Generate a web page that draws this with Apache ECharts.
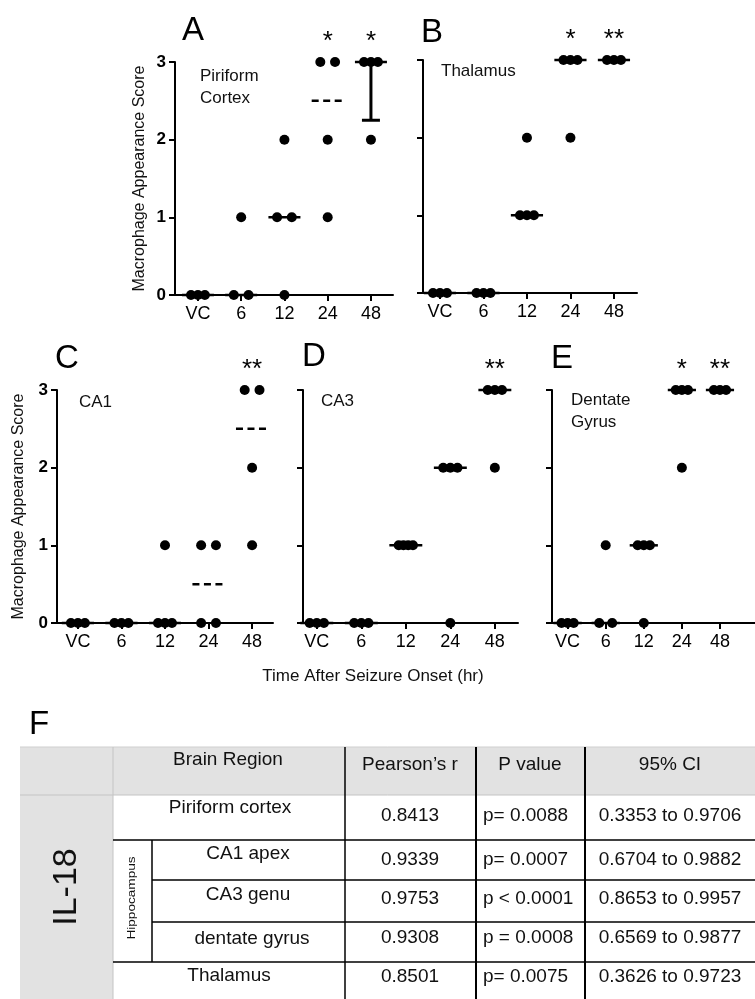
<!DOCTYPE html>
<html>
<head>
<meta charset="utf-8">
<script src="https://cdn.jsdelivr.net/npm/echarts@6/dist/echarts.min.js"></script>
<style>
  html, body { margin: 0; padding: 0; background: #fff; }
  #main { width: 755px; height: 999px; }
</style>
</head>
<body>
<div id="main"></div>
<script>
  const timeLabels = ['VC', '6', '12', '24', '48'];

  // one list of animal scores per time point
  const piriformScores = [[0, 0, 0], [0, 1, 0], [0, 1, 1, 2], [1, 2, 3, 3], [2, 3, 3, 3]];
  const thalamusScores = [[0, 0, 0], [0, 0, 0], [1, 1, 1, 2], [2, 3, 3, 3], [3, 3, 3]];
  const ca1Scores = [[0, 0, 0], [0, 0, 0], [0, 0, 0, 1], [0, 0, 1, 1], [1, 2, 3, 3]];
  const ca3Scores = [[0, 0, 0], [0, 0, 0], [1, 1, 1, 1], [0, 2, 2, 2], [2, 3, 3, 3]];
  const dentateScores = [[0, 0, 0], [0, 0, 1], [0, 1, 1, 1], [2, 3, 3, 3], [3, 3, 3]];

  const piriformStars = ['', '', '', '*', '*'];
  const thalamusStars = ['', '', '', '*', '**'];
  const ca1Stars = ['', '', '', '', '**'];
  const ca3Stars = ['', '', '', '', '**'];
  const dentateStars = ['', '', '', '*', '**'];

  // lower quartile bar, only drawn for piriform 48 hr
  const piriformLowBar = [null, null, null, null, 2.25];

  const tableHeader = ['Brain Region', 'Pearson\u2019s r', 'P value', '95% CI'];
  const tableRegions = ['Piriform cortex', 'CA1 apex', 'CA3 genu', 'dentate gyrus', 'Thalamus'];
  const pearsonR = ['0.8413', '0.9339', '0.9753', '0.9308', '0.8501'];
  const pValues = ['p= 0.0088', 'p= 0.0007', 'p < 0.0001', 'p = 0.0008', 'p= 0.0075'];
  const ci95 = ['0.3353 to 0.9706', '0.6704 to 0.9882', '0.8653 to 0.9957', '0.6569 to 0.9877', '0.3626 to 0.9723'];

  const FONT = 'Liberation Sans, Arial, sans-serif';

  const panels = [
    { letter: 'A', lx: 182, ly: 31, region: 'Piriform\nCortex', rx: 200, ry: 87, scores: piriformScores, stars: piriformStars, lowBar: piriformLowBar,
      left: 175, top: 62, width: 218, height: 233, min: -0.53, max: 4.51, yName: true, nameGap: 27 },
    { letter: 'B', lx: 421, ly: 33, region: 'Thalamus', rx: 441, ry: 71, scores: thalamusScores, stars: thalamusStars, lowBar: [],
      left: 423, top: 60, width: 214, height: 233, min: -0.39, max: 4.53 },
    { letter: 'C', lx: 55, ly: 359, region: 'CA1', rx: 79, ry: 402, scores: ca1Scores, stars: ca1Stars, lowBar: [],
      left: 57, top: 390, width: 216, height: 233, min: -0.48, max: 4.48, yName: true, nameGap: 30 },
    { letter: 'D', lx: 302, ly: 357, region: 'CA3', rx: 321, ry: 401, scores: ca3Scores, stars: ca3Stars, lowBar: [],
      left: 303, top: 390, width: 215, height: 233, min: -0.31, max: 4.52 },
    { letter: 'E', lx: 551, ly: 359, region: 'Dentate\nGyrus', rx: 571, ry: 411, scores: dentateScores, stars: dentateStars, lowBar: [],
      left: 552, top: 390, width: 232, height: 233, min: -0.41, max: 4.92 }
  ];

  function median(arr) {
    const s = arr.slice().sort((a, b) => a - b);
    const m = s.length >> 1;
    return s.length % 2 ? s[m] : (s[m - 1] + s[m]) / 2;
  }

  // horizontal spread of dots that share a score
  function spread(n) {
    if (n === 1) return [0];
    if (n === 2) return [-0.17, 0.17];
    const out = [];
    for (let k = 0; k < n; k++) out.push(-0.16 + 0.32 * k / (n - 1));
    return out;
  }

  function dotPoints(scores) {
    const pts = [];
    scores.forEach((group, i) => {
      const counts = {};
      group.forEach(v => { counts[v] = (counts[v] || 0) + 1; });
      Object.keys(counts).forEach(v => {
        spread(counts[v]).forEach(dx => pts.push([i + dx, Number(v)]));
      });
    });
    return pts;
  }

  const chartDom = document.getElementById('main');
  const myChart = echarts.init(chartDom, null, { renderer: 'canvas' });

  const grid = [], xAxis = [], yAxis = [], series = [];

  panels.forEach((p, k) => {
    grid.push({ left: p.left, top: p.top, width: p.width, height: p.height });

    xAxis.push({
      type: 'value', gridIndex: k, min: p.min, max: p.max,
      splitLine: { show: false },
      axisLine: { lineStyle: { color: '#000', width: 2 } },
      axisTick: { customValues: [0, 1, 2, 3, 4], length: 6, lineStyle: { color: '#000', width: 2 } },
      axisLabel: {
        customValues: [0, 1, 2, 3, 4],
        formatter: v => timeLabels[v],
        color: '#000', fontSize: 18, fontFamily: FONT, margin: 10
      }
    });

    yAxis.push({
      type: 'value', gridIndex: k, min: 0, max: 3, interval: 1,
      name: p.yName ? 'Macrophage Appearance Score' : '',
      nameLocation: 'middle',
      nameGap: p.nameGap || 0,
      nameTextStyle: { color: '#111', fontSize: 16, fontFamily: FONT },
      splitLine: { show: false },
      axisLine: { onZero: false, lineStyle: { color: '#000', width: 2 } },
      axisTick: { length: 6, lineStyle: { color: '#000', width: 2 } },
      axisLabel: {
        show: !!p.yName, color: '#000', fontSize: 17, fontWeight: 'bold', fontFamily: FONT, margin: 9
      }
    });

    series.push({
      type: 'scatter', xAxisIndex: k, yAxisIndex: k,
      symbolSize: 10, clip: false,
      itemStyle: { color: '#000', opacity: 1 },
      emphasis: { disabled: true },
      data: dotPoints(p.scores),
      z: 3
    });

    series.push({
      type: 'custom', xAxisIndex: k, yAxisIndex: k, clip: false,
      data: p.scores.map((g, i) => [i, median(g)]),
      renderItem: function (params, api) {
        const i = params.dataIndex;
        const med = api.value(1);
        const a = api.coord([i - 0.37, med]);
        const b = api.coord([i + 0.37, med]);
        const children = [{
          type: 'line',
          shape: { x1: a[0], y1: a[1], x2: b[0], y2: b[1] },
          style: { stroke: '#000', lineWidth: 2.5, lineDash: med % 1 ? [7, 4.5] : null }
        }];
        const low = p.lowBar[i];
        if (low != null) {
          const c = api.coord([i, med]);
          const d = api.coord([i, low]);
          children.push({ type: 'line', shape: { x1: c[0], y1: c[1], x2: d[0], y2: d[1] }, style: { stroke: '#000', lineWidth: 3 } });
          children.push({ type: 'line', shape: { x1: d[0] - 9, y1: d[1], x2: d[0] + 9, y2: d[1] }, style: { stroke: '#000', lineWidth: 3 } });
        }
        if (p.stars[i]) {
          const top = api.coord([i, 3]);
          children.push({
            type: 'text', x: top[0], y: top[1] - 20,
            style: { text: p.stars[i], fill: '#000', fontSize: 26, fontFamily: FONT, align: 'center', verticalAlign: 'middle' }
          });
        }
        return { type: 'group', children: children };
      },
      z: 2
    });
  });

  const graphic = [];

  panels.forEach(p => {
    graphic.push({
      type: 'text', x: p.lx, y: p.ly,
      style: { text: p.letter, fill: '#000', fontSize: 33, fontFamily: FONT, align: 'left', verticalAlign: 'middle' }
    });
    graphic.push({
      type: 'text', x: p.rx, y: p.ry,
      style: { text: p.region, fill: '#111', fontSize: 17, lineHeight: 22, fontFamily: FONT, align: 'left', verticalAlign: 'middle' }
    });
  });

  graphic.push({
    type: 'text', x: 373, y: 676,
    style: { text: 'Time After Seizure Onset (hr)', fill: '#111', fontSize: 17, fontFamily: FONT, align: 'center', verticalAlign: 'middle' }
  });

  // ---- table F ----
  const tx0 = 20, tx1 = 755, ty0 = 747, ty1 = 999;
  const headBottom = 795;
  const rowLines = [840, 880, 922, 962];
  const colIL = 113, colHip = 152, colR = 345, colP = 476, colCI = 585;
  const regionY = [808, 854, 895, 939, 976];
  const valueY = [816, 860, 899, 938, 977];
  const regionX = [230, 248, 248, 252, 229];

  graphic.push({
    type: 'text', x: 29, y: 725,
    style: { text: 'F', fill: '#000', fontSize: 33, fontFamily: FONT, align: 'left', verticalAlign: 'middle' }
  });

  graphic.push({ type: 'rect', shape: { x: tx0, y: ty0, width: tx1 - tx0, height: headBottom - ty0 }, style: { fill: '#e2e2e2' } });
  graphic.push({ type: 'rect', shape: { x: tx0, y: ty0, width: colIL - tx0, height: ty1 - ty0 }, style: { fill: '#e2e2e2' } });

  function hline(y, x1, x2, color, w) {
    graphic.push({ type: 'line', shape: { x1: x1, y1: y, x2: x2, y2: y }, style: { stroke: color, lineWidth: w } });
  }
  function vline(x, y1, y2, color, w) {
    graphic.push({ type: 'line', shape: { x1: x, y1: y1, x2: x, y2: y2 }, style: { stroke: color, lineWidth: w } });
  }

  hline(ty0, tx0, tx1, '#cfcfcf', 1);
  hline(headBottom, tx0, tx1, '#c4c4c4', 1);
  vline(colIL, ty0, ty1, '#c4c4c4', 1);
  vline(colR, ty0, ty1, '#000', 1.5);
  vline(colP, ty0, ty1, '#000', 2);
  vline(colCI, ty0, ty1, '#000', 2);
  hline(rowLines[0], colIL, tx1, '#000', 1.5);
  hline(rowLines[1], colHip, tx1, '#000', 1.5);
  hline(rowLines[2], colHip, tx1, '#000', 1.5);
  hline(rowLines[3], colIL, tx1, '#000', 1.5);
  vline(colHip, rowLines[0], rowLines[3], '#000', 1.5);

  const cellStyle = { fill: '#111', fontSize: 19, fontFamily: FONT, verticalAlign: 'middle' };

  graphic.push({ type: 'text', x: 228, y: 760, style: Object.assign({ text: tableHeader[0], align: 'center' }, cellStyle) });
  graphic.push({ type: 'text', x: 410, y: 765, style: Object.assign({ text: tableHeader[1], align: 'center' }, cellStyle) });
  graphic.push({ type: 'text', x: 530, y: 765, style: Object.assign({ text: tableHeader[2], align: 'center' }, cellStyle) });
  graphic.push({ type: 'text', x: 670, y: 765, style: Object.assign({ text: tableHeader[3], align: 'center' }, cellStyle) });

  tableRegions.forEach((name, r) => {
    graphic.push({ type: 'text', x: regionX[r], y: regionY[r], style: Object.assign({ text: name, align: 'center' }, cellStyle) });
    graphic.push({ type: 'text', x: 410, y: valueY[r], style: Object.assign({ text: pearsonR[r], align: 'center' }, cellStyle) });
    graphic.push({ type: 'text', x: 483, y: valueY[r], style: Object.assign({ text: pValues[r], align: 'left' }, cellStyle) });
    graphic.push({ type: 'text', x: 670, y: valueY[r], style: Object.assign({ text: ci95[r], align: 'center' }, cellStyle) });
  });

  graphic.push({
    type: 'text', x: 67, y: 887, rotation: Math.PI / 2,
    style: { text: 'IL-18', fill: '#111', fontSize: 34, fontFamily: FONT, align: 'center', verticalAlign: 'middle' }
  });
  graphic.push({
    type: 'text', x: 132, y: 898, rotation: Math.PI / 2, scaleX: 1.36,
    style: { text: 'Hippocampus', fill: '#111', fontSize: 10, fontFamily: FONT, align: 'center', verticalAlign: 'middle' }
  });

  const option = {
    animation: false,
    backgroundColor: '#fff',
    grid: grid,
    xAxis: xAxis,
    yAxis: yAxis,
    series: series,
    graphic: graphic
  };

  myChart.setOption(option);
</script>
</body>
</html>
